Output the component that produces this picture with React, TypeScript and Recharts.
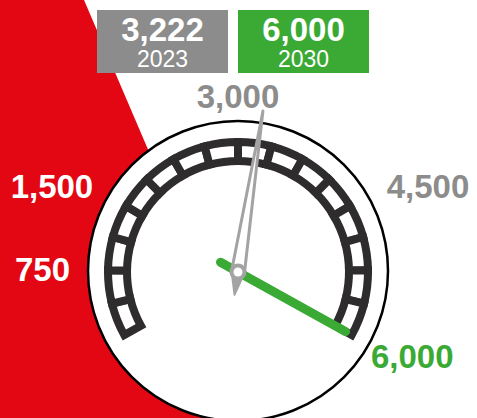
import React from "react";
import { PieChart, Pie } from "recharts";

// gauge scale
const gaugeMax = 6000;
const segmentStep = 375;
const tickValues = [750, 1500, 3000, 4500, 6000];
const tickLabels = ["750", "1,500", "3,000", "4,500", "6,000"];

// readings
const years = ["2023", "2030"];
const yearValues = [3222, 6000];
const yearLabels = ["3,222", "6,000"];

const W = 477;
const H = 418;
const CX = 238;
const CY = 272;
const START = 209;
const END = -29;

const RED = "#e30613";
const GRAY = "#8c8c8c";
const GREEN = "#3aaa35";
const DARK = "#2e2c2d";
const NEEDLE = "#a3a3a3";
const tickColors = ["#ffffff", "#ffffff", GRAY, GRAY, GREEN];
const boxColors = [GRAY, GREEN];
const FONT = '"Liberation Sans", Arial, sans-serif';

const RAD = Math.PI / 180;
const pt = (cx: number, cy: number, r: number, a: number) => [
  cx + r * Math.cos(-a * RAD),
  cy + r * Math.sin(-a * RAD),
];

const segmentData = Array.from({ length: gaugeMax / segmentStep }, (_, i) => ({
  name: `s${i}`,
  value: segmentStep,
}));
const tickData = tickValues.map((t, i) => ({
  name: tickLabels[i],
  value: t - (i ? tickValues[i - 1] : 0),
}));
const needleData = (v: number) => [
  { name: "value", value: v },
  { name: "rest", value: gaugeMax - v },
];

const renderTick = (p: any) => {
  const a = p.endAngle;
  const c = Math.cos(a * RAD);
  const s = Math.sin(a * RAD);
  const top = Math.abs(c) < 0.2;
  const r = top ? 164 : s < 0 ? 152 : 168;
  const [x, y] = pt(p.cx, p.cy, r, a);
  const anchor = top ? "middle" : c < 0 ? "end" : "start";
  const dx = !top && c > 0 && s > 0 ? 4 : 0;
  const dy = top ? -12 : s < 0 ? 11 : 0;
  return (
    <text
      key={`t${p.index}`}
      x={x + dx}
      y={y + dy}
      textAnchor={anchor}
      dominantBaseline="central"
      fill={tickColors[p.index]}
      fontFamily={FONT}
      fontWeight="bold"
      fontSize={33}
    >
      {tickLabels[p.index]}
    </text>
  );
};

const renderGreen = (p: any) => {
  if (p.index !== 0) return null;
  const a = p.endAngle;
  const [x1, y1] = pt(p.cx, p.cy, -20, a);
  const [x2, y2] = pt(p.cx, p.cy, 123, a);
  return (
    <line key="g" x1={x1} y1={y1} x2={x2} y2={y2} stroke={GREEN} strokeWidth={9} strokeLinecap="round" />
  );
};

const renderGray = (p: any) => {
  if (p.index !== 0) return null;
  const a = p.endAngle;
  const tip = pt(p.cx, p.cy, 163, a);
  const l = pt(p.cx, p.cy, 6.5, a + 90);
  const r = pt(p.cx, p.cy, 6.5, a - 90);
  const tail = pt(p.cx, p.cy, -23, a);
  return (
    <g key="n">
      <polygon points={`${tip} ${l} ${r}`} fill="#fff" stroke={NEEDLE} strokeWidth={3} strokeLinejoin="round" />
      <polygon points={`${l} ${tail} ${r}`} fill={NEEDLE} stroke={NEEDLE} strokeWidth={2} strokeLinejoin="round" />
      <circle cx={p.cx} cy={p.cy} r={8.5} fill={NEEDLE} />
      <circle cx={p.cx} cy={p.cy} r={4.5} fill="#fff" />
    </g>
  );
};

export default function App() {
  return (
    <div style={{ position: "absolute", left: 0, top: 0, width: W, height: H, overflow: "hidden", background: "#fff" }}>
      <svg width={W} height={H} style={{ position: "absolute", left: 0, top: 0 }}>
        <polygon points={`0,0 84,0 263,${H} 0,${H}`} fill={RED} />
        <circle cx={238} cy={271} r={150} fill="#fff" stroke="#000" strokeWidth={2.5} />
        {years.map((yr, i) => (
          <g key={yr}>
            <rect x={97 + i * 141} y={10} width={131} height={63} fill={boxColors[i]} />
            <text x={162.5 + i * 141} y={41} textAnchor="middle" fill="#fff" fontFamily={FONT} fontWeight="bold" fontSize={33}>
              {yearLabels[i]}
            </text>
            <text x={162.5 + i * 141} y={67} textAnchor="middle" fill="#fff" fontFamily={FONT} fontSize={23}>
              {yr}
            </text>
          </g>
        ))}
      </svg>
      <div style={{ position: "absolute", left: 0, top: 0 }}>
        <PieChart width={W} height={H} margin={{ top: 0, right: 0, bottom: 0, left: 0 }}>
          <Pie
            data={segmentData}
            dataKey="value"
            cx={CX}
            cy={CY}
            startAngle={START}
            endAngle={END}
            innerRadius={111}
            outerRadius={130}
            fill="#fff"
            stroke={DARK}
            strokeWidth={8}
            isAnimationActive={false}
          />
          <Pie
            data={tickData}
            dataKey="value"
            cx={CX}
            cy={CY}
            startAngle={START}
            endAngle={END}
            innerRadius={0}
            outerRadius={1}
            fill="none"
            stroke="none"
            label={renderTick}
            labelLine={false}
            isAnimationActive={false}
          />
          <Pie
            data={needleData(yearValues[1])}
            dataKey="value"
            cx={CX}
            cy={CY}
            startAngle={START}
            endAngle={END}
            innerRadius={0}
            outerRadius={1}
            fill="none"
            stroke="none"
            label={renderGreen}
            labelLine={false}
            isAnimationActive={false}
          />
          <Pie
            data={needleData(yearValues[0])}
            dataKey="value"
            cx={CX}
            cy={CY}
            startAngle={START}
            endAngle={END}
            innerRadius={0}
            outerRadius={1}
            fill="none"
            stroke="none"
            label={renderGray}
            labelLine={false}
            isAnimationActive={false}
          />
        </PieChart>
      </div>
    </div>
  );
}
